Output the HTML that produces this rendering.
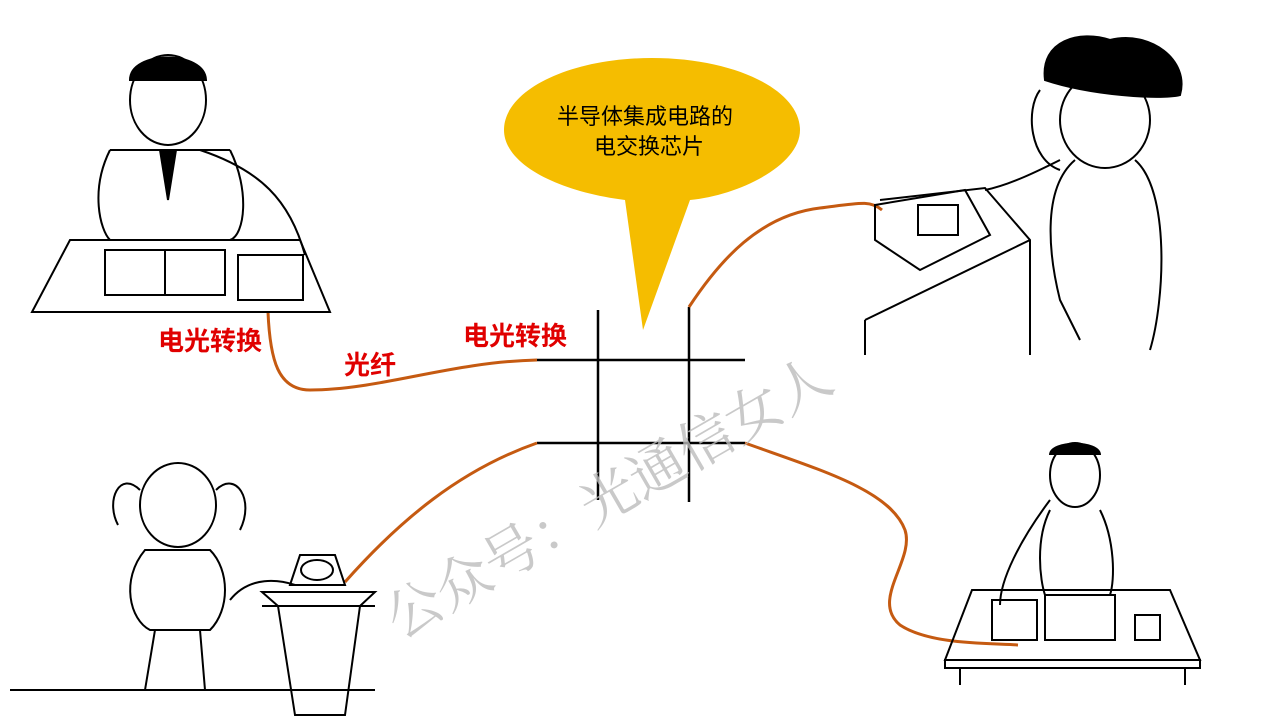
<!DOCTYPE html>
<html><head><meta charset="utf-8">
<style>
html,body{margin:0;padding:0;background:#fff;}
body{width:1280px;height:720px;overflow:hidden;position:relative;font-family:"Liberation Sans","Noto Sans CJK SC",sans-serif;}
svg{position:absolute;left:0;top:0;}
</style></head><body>
<svg width="1280" height="720" viewBox="0 0 1280 720" font-family="Liberation Sans, Noto Sans CJK SC, sans-serif">
<!-- bubble -->
<path d="M652,58 C735,58 800,90 800,130 C800,165 740,195 690,200 L643,330 L625,200 C560,192 504,165 504,130 C504,90 570,58 652,58 Z" fill="#F5BD00"/>
<text x="557" y="124" font-size="22" fill="#000">半导体集成电路的</text>
<text x="594" y="154" font-size="22" fill="#000">电交换芯片</text>
<!-- grid -->
<g stroke="#000" stroke-width="2.5">
<line x1="598" y1="310" x2="598" y2="500"/>
<line x1="689" y1="307" x2="689" y2="502"/>
<line x1="537" y1="360" x2="745" y2="360"/>
<line x1="537" y1="443" x2="745" y2="443"/>
</g>
<!-- cables -->
<g stroke="#C55A11" stroke-width="3" fill="none">
<path d="M268,312 C270,360 278,390 310,390 C380,390 450,362 537,360"/>
<path d="M689,307 C720,260 760,215 820,208 C860,203 870,200 882,210"/>
<path d="M537,443 C460,470 400,520 345,582"/>
<path d="M745,443 C820,470 890,490 905,530 C915,560 870,600 900,625 C930,645 990,643 1018,645"/>
</g>
<!-- labels -->
<g fill="#E00000" font-size="26" font-weight="bold">
<text x="158" y="350">电光转换</text>
<text x="344" y="374">光纤</text>
<text x="463" y="345">电光转换</text>
</g>
<!-- watermark -->
<text x="400" y="640" font-size="56" fill="#bbb" fill-opacity="0.8" font-family="Noto Serif CJK SC, serif" transform="rotate(-30 400 640)">公众号：光通信女人</text>
<!-- drawings: simplified -->
<g stroke="#000" stroke-width="2" fill="none">
<polygon points="70,240 300,240 330,312 32,312"/>
<rect x="105" y="250" width="120" height="45"/>
<line x1="165" y1="250" x2="165" y2="295"/>
<rect x="238" y="255" width="65" height="45"/>
<ellipse cx="168" cy="100" rx="38" ry="45"/>
<path d="M130,80 C130,50 205,50 206,80 Z" fill="#000"/>
<path d="M110,150 C90,190 100,230 110,240 M230,150 C250,190 245,235 230,240 M110,150 L230,150"/>
<path d="M160,150 L168,200 L176,150" fill="#000"/>
<path d="M200,150 C260,170 290,200 305,255"/>
<path d="M1045,80 C1040,40 1080,30 1110,40 C1150,30 1190,60 1180,95 C1160,100 1090,95 1045,80 Z" fill="#000"/>
<ellipse cx="1105" cy="120" rx="45" ry="48"/>
<path d="M1075,160 C1040,190 1050,260 1060,300 L1080,340 M1135,160 C1170,190 1165,300 1150,350"/>
<path d="M1040,90 C1025,110 1030,160 1060,170"/>
<path d="M880,200 L985,188 L1030,240 L1030,355 M865,320 L1030,240 M865,320 L865,355"/>
<polygon points="875,205 965,190 990,235 920,270 875,240"/>
<rect x="918" y="205" width="40" height="30"/>
<path d="M985,190 C1010,185 1040,170 1060,160"/>
<ellipse cx="178" cy="505" rx="38" ry="42"/>
<path d="M140,490 C120,470 105,500 118,525 M216,490 C236,470 255,500 240,530"/>
<path d="M145,550 C120,580 130,620 150,630 L210,630 C230,610 230,570 210,550 Z"/>
<path d="M155,630 L145,690 M200,630 L205,690"/>
<line x1="10" y1="690" x2="375" y2="690"/>
<polygon points="262,592 375,592 360,606 345,715 295,715 278,606"/>
<line x1="262" y1="606" x2="375" y2="606"/>
<path d="M290,585 L300,555 L335,555 L345,585 Z"/>
<ellipse cx="317" cy="570" rx="16" ry="10"/>
<path d="M230,600 C250,575 280,580 295,585"/>
<ellipse cx="1075" cy="475" rx="25" ry="32"/>
<path d="M1050,455 C1050,440 1100,440 1100,455" fill="#000"/>
<path d="M1050,510 C1035,540 1040,580 1045,595 M1100,510 C1115,540 1115,580 1110,595"/>
<polygon points="972,590 1170,590 1200,660 945,660"/>
<rect x="945" y="660" width="255" height="8"/>
<line x1="960" y1="668" x2="960" y2="685"/><line x1="1185" y1="668" x2="1185" y2="685"/>
<rect x="992" y="600" width="45" height="40"/>
<rect x="1045" y="595" width="70" height="45"/>
<rect x="1135" y="615" width="25" height="25"/>
<path d="M1050,500 C1020,540 1000,580 1000,605"/>
</g>
</svg>
</body></html>
